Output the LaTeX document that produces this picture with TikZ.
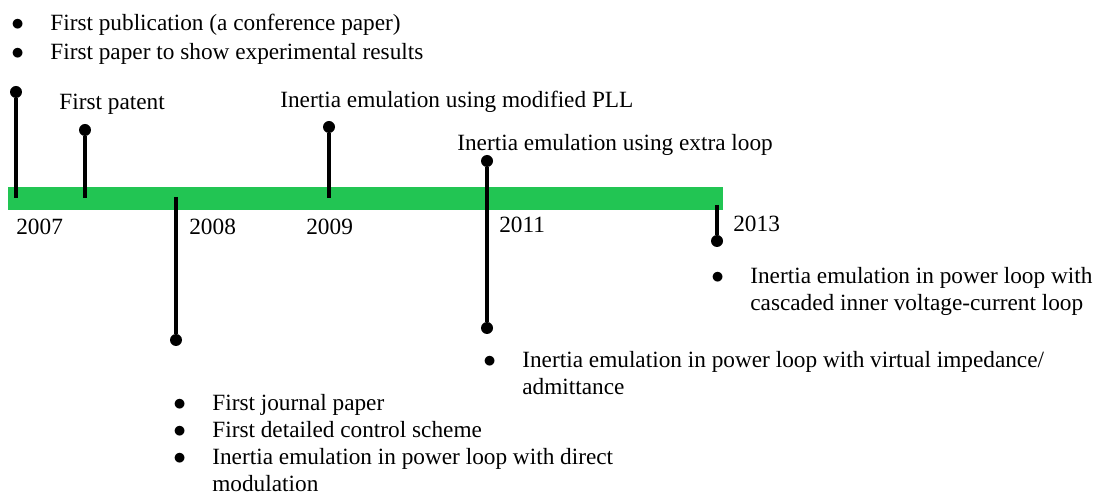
\documentclass[tikz,border=0pt]{standalone}
\usepackage{fontspec}
\setmainfont{Liberation Serif}
\usetikzlibrary{positioning}
\definecolor{bargreen}{RGB}{34,197,83}

\begin{document}
\begin{tikzpicture}[
            x=0.02cm,
            y=-0.02cm,
            dot/.style={
				circle,
				fill=black,
				inner sep=0pt,
				minimum size=0.24cm
			},
            stem/.style={
				line width=0.07cm
			},
            txt/.style={
				inner sep=0pt,
				anchor=base west,
				font=\fontsize{13.25}{15.3}\selectfont
			}
        ]

        \useasboundingbox (0,0) rectangle (1096,496);

        % the time bar
        \fill[bargreen] (8,187) rectangle (723,210);

        % ends on the bar
        \coordinate (t2007) at (16,198);
        \coordinate (tpatent) at (85,198);
        \coordinate (t2008) at (176,197);
        \coordinate (t2009) at (329,198);
        \coordinate (t2013) at (717,205);

        % dots
        \node (d2007) [dot] at (16,92) {};
        \node (dpatent) [dot] at (85,130) {};
        \node (d2008) [dot] at (176,340) {};
        \node (d2009) [dot] at (329,127) {};
        \node (d2011a) [dot] at (487,161) {};
        \node (d2011b) [dot] at (487,328) {};
        \node (d2013) [dot] at (717,241) {};

        \draw [stem] (d2007) -- (t2007);
        \draw [stem] (dpatent) -- (tpatent);
        \draw [stem] (t2008) -- (d2008);
        \draw [stem] (d2009) -- (t2009);
        \draw [stem] (d2011a) -- (d2011b);
        \draw [stem] (t2013) -- (d2013);

        % years
        \node (y2007) [txt] at (16,235) {2007};
        \node (y2008) [txt] at (189,235) {2008};
        \node (y2009) [txt] at (306,235) {2009};
        \node (y2011) [txt] at (499,233) {2011};
        \node (y2013) [txt] at (733,232) {2013};

        % events
        \node (patent) [txt] at (59,110) {First patent};
        \node (pll) [txt] at (280,108) {Inertia emulation using modified PLL};
        \node (extra) [txt] at (457,151) {Inertia emulation using extra loop};

        \node (list2007) [txt] at (11,31) {\begin{tabular}[t]{@{}p{0.78cm}@{}l@{}}
            $\bullet$ & First publication (a conference paper)\\[0.04cm]
            $\bullet$ & First paper to show experimental results
        \end{tabular}};
        \node (list2008) [txt] at (173,411) {\begin{tabular}[t]{@{}p{0.78cm}@{}l@{}}
            $\bullet$ & First journal paper\\
            $\bullet$ & First detailed control scheme\\
            $\bullet$ & Inertia emulation in power loop with direct\\
             & modulation
        \end{tabular}};
        \node (list2011) [txt] at (483,368) {\begin{tabular}[t]{@{}p{0.78cm}@{}l@{}}
            $\bullet$ & Inertia emulation in power loop with virtual impedance/\\
             & admittance
        \end{tabular}};
        \node (list2013) [txt] at (711,284) {\begin{tabular}[t]{@{}p{0.78cm}@{}l@{}}
            $\bullet$ & Inertia emulation in power loop with\\
             & cascaded inner voltage-current loop
        \end{tabular}};

\end{tikzpicture}
\end{document}
